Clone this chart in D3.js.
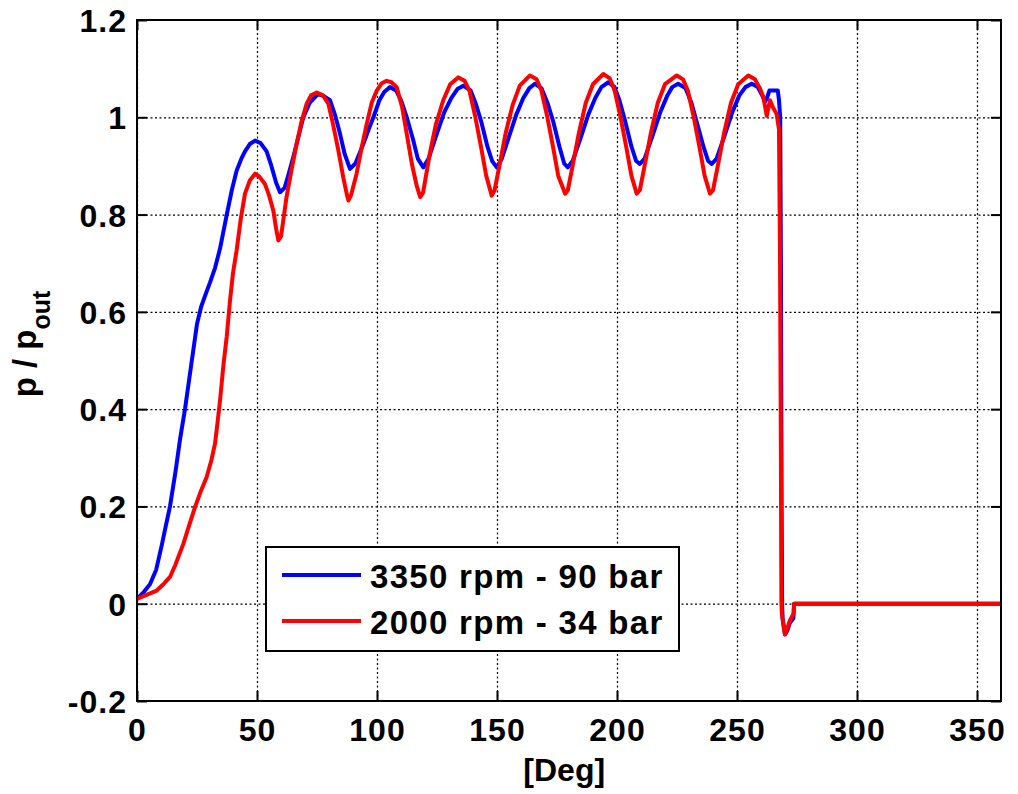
<!DOCTYPE html>
<html>
<head>
  <meta charset="utf-8">
  <title></title>
  <style>
    body { margin: 0; background: #fff; }
    svg { display: block; font-family: "Liberation Sans", Arial, sans-serif; font-weight: bold; }
    .grid line { stroke: #000; stroke-width: 1.2; stroke-dasharray: 2,2.5; }
    .grid path { display: none; }
    .tick-ax path { display: none; }
    .tick-ax line { stroke: #000; stroke-width: 2; }
    .tick-ax text { font-size: 32px; letter-spacing: 1px; fill: #000; }
    .series { fill: none; stroke-width: 4; stroke-linejoin: round; }
  </style>
</head>
<body>
<svg width="1018" height="794"></svg>
<script src="https://cdn.jsdelivr.net/npm/d3@7"></script>
<script>

// crank angle [deg] and p/pout, 3350 rpm - 90 bar
var degBlue = [0, 3, 5.4, 8, 10.3, 12, 13.75, 16, 18, 20, 22, 24, 25, 26.7, 28.5, 30.4, 32.5, 34.6, 37.4, 39.5,
  41.5, 43.5, 45, 47, 49.2, 51.5, 54, 56, 58, 59.6, 61.5, 63, 65.1, 67, 69.3, 72, 75.5, 78, 80.4, 82.5,
  84.6, 86.5, 88.75, 91, 94.3, 96.5, 98.5, 101, 103, 105.4, 108, 110, 112.4, 115, 117, 119.3, 121.5, 124.9, 128, 131,
  133.5, 136, 139, 141, 143.5, 146, 148, 149.9, 152, 155, 158, 161, 163.5, 165.8, 168.5, 171, 173.5, 176, 178, 179.5,
  181.5, 185, 188, 191, 193.5, 196.4, 199, 201, 203.5, 206, 208, 209.5, 211.5, 215, 218, 221, 223, 225.5, 228.5, 231,
  233.5, 236, 238, 239.5, 241.5, 245, 248, 251, 253.5, 256.1, 258.5, 260.5, 261.7, 262.5, 263.5, 267, 267.5, 268, 268.3, 268.6,
  268.8, 269, 270, 271, 272, 273.5, 273.8, 360];
var valBlue = [0.01, 0.025, 0.04, 0.07, 0.12, 0.16, 0.2, 0.27, 0.34, 0.4, 0.47, 0.54, 0.575, 0.61, 0.635, 0.66, 0.69, 0.73, 0.8, 0.85,
  0.89, 0.915, 0.93, 0.945, 0.952, 0.947, 0.93, 0.9, 0.865, 0.846, 0.855, 0.88, 0.918, 0.955, 1.0, 1.03, 1.048, 1.043, 1.035, 1.005,
  0.966, 0.925, 0.894, 0.905, 0.945, 0.975, 1.0, 1.035, 1.052, 1.062, 1.055, 1.035, 1.0, 0.955, 0.915, 0.897, 0.915, 0.966, 1.01, 1.04,
  1.058, 1.065, 1.055, 1.03, 0.99, 0.94, 0.91, 0.897, 0.915, 0.96, 1.005, 1.04, 1.06, 1.069, 1.06, 1.03, 0.99, 0.94, 0.905, 0.897,
  0.91, 0.96, 1.005, 1.04, 1.062, 1.072, 1.062, 1.035, 0.99, 0.94, 0.91, 0.904, 0.915, 0.965, 1.01, 1.045, 1.062, 1.069, 1.06, 1.03,
  0.985, 0.94, 0.91, 0.904, 0.915, 0.965, 1.01, 1.045, 1.062, 1.069, 1.063, 1.045, 1.032, 1.04, 1.055, 1.055, 1.035, 1.0, 0.7, 0.2,
  0.0, -0.03, -0.063, -0.055, -0.04, -0.03, 0, 0];

// 2000 rpm - 34 bar
var degRed = [0, 4, 8.2, 11, 13.75, 16, 19.3, 22, 24.2, 26.5, 29, 31, 32.5, 33.5, 34.6, 36, 37.4, 38.75, 40, 41.5,
  43.2, 45, 47, 49.2, 51, 53.3, 55, 56.8, 58, 58.9, 60, 61, 62.3, 64.5, 66.5, 68.5, 70.7, 72.5, 74.9, 77.5,
  79.7, 81.5, 83.9, 86, 87.5, 88.1, 89.2, 91.5, 93.5, 95.7, 97.8, 99.9, 102, 104, 106, 108.2, 110.5, 112.4, 114.5, 116.5,
  118, 119.2, 122, 124.5, 127.6, 130.5, 133.9, 136.5, 138.5, 141, 143.5, 145.5, 147.8, 149, 151, 153.5, 156.5, 159.5, 163.75, 166.5,
  168.5, 171, 173.5, 175.5, 178.4, 179.5, 181.5, 184, 187, 190, 194.3, 197, 199, 201.5, 204, 206, 208.2, 209.5, 211.5, 214,
  217, 220, 224.9, 227.5, 229.5, 232, 234.5, 236.5, 238.75, 240, 242, 244.5, 247.5, 250.5, 254.7, 257.5, 259.5, 261, 262.4, 263.75,
  265, 266.5, 267.5, 267.9, 268.3, 268.5, 268.7, 269.5, 270, 271, 272, 273.6, 273.8, 360];
var valRed = [0.01, 0.018, 0.027, 0.04, 0.055, 0.08, 0.123, 0.165, 0.199, 0.23, 0.26, 0.295, 0.329, 0.37, 0.418, 0.49, 0.55, 0.623, 0.68, 0.726,
  0.79, 0.843, 0.87, 0.884, 0.878, 0.863, 0.84, 0.808, 0.77, 0.747, 0.755, 0.79, 0.836, 0.895, 0.945, 0.99, 1.028, 1.045, 1.051, 1.045,
  1.028, 0.99, 0.932, 0.875, 0.84, 0.829, 0.84, 0.884, 0.935, 0.986, 1.03, 1.055, 1.07, 1.075, 1.072, 1.062, 1.02, 0.966, 0.905, 0.86,
  0.836, 0.845, 0.925, 0.985, 1.035, 1.068, 1.082, 1.075, 1.055, 1.0, 0.935, 0.88, 0.839, 0.85, 0.9, 0.965, 1.025, 1.065, 1.086, 1.078,
  1.055, 1.0, 0.935, 0.88, 0.843, 0.85, 0.9, 0.965, 1.03, 1.068, 1.089, 1.08, 1.055, 1.0, 0.935, 0.88, 0.843, 0.85, 0.9, 0.965,
  1.03, 1.068, 1.086, 1.078, 1.055, 1.0, 0.935, 0.88, 0.843, 0.85, 0.9, 0.965, 1.03, 1.068, 1.086, 1.078, 1.06, 1.041, 1.003, 1.035,
  1.02, 1.007, 0.975, 0.73, 0.3, 0.0, -0.02, -0.05, -0.063, -0.05, -0.035, -0.02, 0, 0];

var seriesNames = ["3350 rpm - 90 bar", "2000 rpm - 34 bar"];
var seriesColors = ["#0000ff", "#ff0000"];
var xTicks = [0, 50, 100, 150, 200, 250, 300, 350];
var yTicks = [-0.2, 0, 0.2, 0.4, 0.6, 0.8, 1, 1.2];
var yTickLabels = ["-0.2", "0", "0.2", "0.4", "0.6", "0.8", "1", "1.2"];

var svg = d3.select("svg");
var margin = {left: 137, top: 20, right: 17, bottom: 93};
var width = +svg.attr("width") - margin.left - margin.right,
    height = +svg.attr("height") - margin.top - margin.bottom;

var x = d3.scaleLinear().domain([0, 360]).range([0, width]);
var y = d3.scaleLinear().domain([-0.2, 1.2]).range([height, 0]);

var g = svg.append("g").attr("transform", "translate(" + margin.left + "," + margin.top + ")");

// dotted grid
g.append("g").attr("class", "grid")
  .attr("transform", "translate(0," + height + ")")
  .call(d3.axisBottom(x).tickValues(xTicks).tickSize(-height).tickFormat(""));
g.append("g").attr("class", "grid")
  .call(d3.axisLeft(y).tickValues(yTicks).tickSize(-width).tickFormat(""));

// axes with inward ticks
var xAx = g.append("g").attr("class", "tick-ax")
  .attr("transform", "translate(0," + height + ")")
  .call(d3.axisBottom(x).tickValues(xTicks).tickSize(-10).tickFormat(d3.format("d")));
xAx.selectAll("text").attr("y", 40).attr("dy", 0);

var yAx = g.append("g").attr("class", "tick-ax")
  .call(d3.axisLeft(y).tickValues(yTicks).tickSize(-10).tickPadding(10)
    .tickFormat(function(d, i) { return yTickLabels[i]; }));
yAx.selectAll("text").attr("dy", "0.36em");

g.append("g").attr("class", "tick-ax")
  .call(d3.axisTop(x).tickValues(xTicks).tickSize(-10).tickFormat(""));
g.append("g").attr("class", "tick-ax")
  .attr("transform", "translate(" + width + ",0)")
  .call(d3.axisRight(y).tickValues(yTicks).tickSize(-10).tickFormat(""));

// the lines
var line = d3.line()
  .x(function(d) { return x(d[0]); })
  .y(function(d) { return y(d[1]); });

var series = [d3.zip(degBlue, valBlue), d3.zip(degRed, valRed)];
g.selectAll(".series")
  .data(series)
  .enter().append("path")
  .attr("class", "series")
  .attr("stroke", function(d, i) { return seriesColors[i]; })
  .attr("d", line);

// frame
g.append("rect")
  .attr("width", width).attr("height", height)
  .attr("fill", "none").attr("stroke", "#000").attr("stroke-width", 2);

// legend
var leg = svg.append("g").attr("transform", "translate(266,547)");
leg.append("rect")
  .attr("width", 413).attr("height", 104)
  .attr("fill", "#fff").attr("stroke", "#000").attr("stroke-width", 2);
seriesNames.forEach(function(name, i) {
  var yy = 28 + i * 46;
  leg.append("line")
    .attr("x1", 16).attr("x2", 95).attr("y1", yy).attr("y2", yy)
    .attr("stroke", seriesColors[i]).attr("stroke-width", 4);
  leg.append("text")
    .attr("x", 104).attr("y", yy + 13)
    .style("font-size", "33px").style("letter-spacing", "1.3px")
    .text(name);
});

// axis labels
svg.append("text")
  .attr("x", margin.left + x(178)).attr("y", 781)
  .attr("text-anchor", "middle")
  .style("font-size", "32px")
  .text("[Deg]");

var yl = svg.append("text")
  .attr("transform", "translate(36,344) rotate(-90)")
  .attr("text-anchor", "middle")
  .style("font-size", "33px");
yl.append("tspan").text("p / p");
yl.append("tspan").attr("dy", 14).style("font-size", "25px").text("out");

</script>
</body>
</html>
